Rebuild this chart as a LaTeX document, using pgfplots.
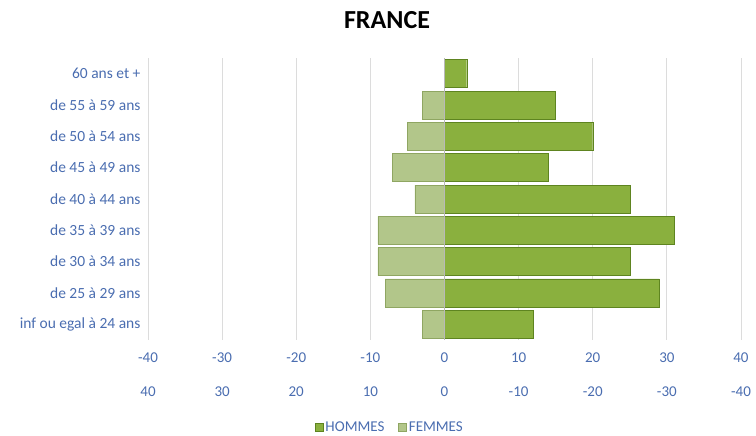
\documentclass[border=0pt]{standalone}
\usepackage{pgfplots}
\pgfplotsset{compat=1.18}
\usepackage{fontspec}
\setmainfont{Carlito}
\definecolor{lblblue}{HTML}{4A6DB0}
\definecolor{hom}{HTML}{8AB03E}
\definecolor{homdark}{HTML}{5E8420}
\definecolor{fem}{HTML}{B2C68A}
\definecolor{femdark}{HTML}{8FA662}
\definecolor{gridc}{HTML}{DCDCDC}
\begin{document}
\begin{tikzpicture}[x=1pt,y=1pt]
\useasboundingbox (0,0) rectangle (756,436);
\node[font=\bfseries\fontsize{26}{30}\selectfont] at (387,416) {FRANCE};
\begin{axis}[
  at={(148pt,96pt)}, anchor=south west,
  scale only axis, width=593pt, height=282pt,
  xbar, bar width=28pt,
  xmin=-40, xmax=40, ymin=-0.5, ymax=8.5,
  xtick={-40,-30,...,40},
  xticklabels={{-40\\40},{-30\\30},{-20\\20},{-10\\10},{0\\0},{10\\-10},{20\\-20},{30\\-30},{40\\-40}},
  xticklabel style={align=center, font=\fontsize{15}{34}\selectfont, text=lblblue, anchor=north, yshift=-9pt},
  ytick={0,...,8},
  yticklabels={inf ou egal à 24 ans, de 25 à 29 ans, de 30 à 34 ans, de 35 à 39 ans, de 40 à 44 ans, de 45 à 49 ans, de 50 à 54 ans, de 55 à 59 ans, 60 ans et +},
  yticklabel style={font=\fontsize{15.5}{18}\selectfont, text=lblblue, anchor=east, xshift=-4pt},
  major tick length=0pt,
  axis line style={draw=none},
  xmajorgrids, grid style={gridc, line width=0.8pt},
  legend style={at={(0.408,-0.31)}, anchor=center, draw=none, fill=none,
    legend columns=2, font=\fontsize{15}{18}\selectfont, text=lblblue,
    /tikz/every even column/.append style={column sep=12pt}},
  legend cell align=left,
]
\addplot[xbar, bar shift=0pt, draw=homdark, fill=hom,
  legend image code/.code={\fill[hom, draw=homdark] (0pt,-4pt) rectangle (8pt,4pt);}]
  coordinates {(12,0) (29,1) (25,2) (31,3) (25,4) (14,5) (20,6) (15,7) (3,8)};
\addlegendentry{HOMMES}
\addplot[xbar, bar shift=0pt, draw=femdark, fill=fem,
  legend image code/.code={\fill[fem, draw=femdark] (0pt,-4pt) rectangle (8pt,4pt);}]
  coordinates {(-3,0) (-8,1) (-9,2) (-9,3) (-4,4) (-7,5) (-5,6) (-3,7)};
\addlegendentry{FEMMES}
\draw[gray!55, line width=1pt] (axis cs:0,-0.5) -- (axis cs:0,8.5);
\end{axis}
\end{tikzpicture}
\end{document}
